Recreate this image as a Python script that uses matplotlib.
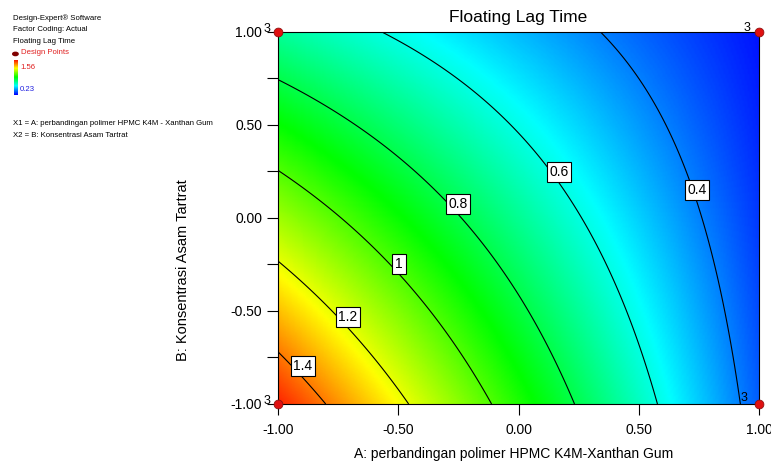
import numpy as np
import matplotlib
matplotlib.use("Agg")
from matplotlib import pyplot as plt
from matplotlib.colors import LinearSegmentedColormap

plt.rcParams["font.family"] = ["Liberation Sans", "DejaVu Sans"]

coef_names = ["b0", "A", "B", "AB"]
coef_values = [0.705, -0.40, -0.23, 0.18]

# design points (corners of the factorial), replicate counts
pt_a = [-1.0, -1.0, 1.0, 1.0]
pt_b = [-1.0, 1.0, -1.0, 1.0]
pt_n = [3, 3, 3, 3]

resp_min = 0.23
resp_max = 1.56
contour_levels = [0.4, 0.6, 0.8, 1.0, 1.2, 1.4]
label_at = [(0.742, 0.151), (0.168, 0.247), (-0.252, 0.075),
            (-0.497, -0.247), (-0.709, -0.532), (-0.896, -0.796)]

xticks = [-1.0, -0.5, 0.0, 0.5, 1.0]
yticks = [-1.0, -0.5, 0.0, 0.5, 1.0]

title = "Floating Lag Time"
xlabel = "A: perbandingan polimer HPMC K4M-Xanthan Gum"
ylabel = "B: Konsentrasi Asam Tartrat"

de_cmap = LinearSegmentedColormap.from_list(
    "de", ["#0000ff", "#00ffff", "#00ff00", "#ffff00", "#ff0000"])


def model(a, b):
    b0, ba, bb, bab = coef_values
    return b0 + ba * a + bb * b + bab * a * b


def plot():
    fig = plt.figure(figsize=(7.71, 4.69), dpi=100)
    ax = fig.add_axes([0.3606, 0.1386, 0.6239, 0.7932])

    g = np.linspace(-1, 1, 300)
    A, B = np.meshgrid(g, g)
    Z = model(A, B)
    ax.pcolormesh(A, B, Z, cmap=de_cmap, vmin=resp_min, vmax=resp_max,
                  shading="gouraud")
    cs = ax.contour(A, B, Z, levels=contour_levels, colors="black",
                    linewidths=0.8)
    labels = ax.clabel(cs, fmt=lambda v: "%g" % v, inline=False,
                       manual=label_at, fontsize=10)
    # put each boxed label where Design-Expert drew it
    for t in labels:
        lv = float(t.get_text())
        i = min(range(len(contour_levels)),
                key=lambda k: abs(contour_levels[k] - lv))
        t.set_position(label_at[i])
        t.set_rotation(0)
        t.set_bbox(dict(facecolor="white", edgecolor="black", pad=2.0,
                        linewidth=0.8))
        t.set_zorder(5)

    ax.scatter(pt_a, pt_b, s=40, c="#e01010", edgecolors="#901010",
               linewidths=0.6, zorder=6, clip_on=False)
    for a, b, n in zip(pt_a, pt_b, pt_n):
        if a < 0:
            off = (-8, 2)
        elif b > 0:
            off = (-9, 3)
        else:
            off = (-11, 4)
        ax.annotate(str(n), (a, b), xytext=off, textcoords="offset points",
                    fontsize=9, ha="center", va="center", zorder=7,
                    annotation_clip=False)

    ax.set_xlim(-1, 1)
    ax.set_ylim(-1, 1)
    ax.set_xticks(xticks)
    ax.set_yticks(yticks)
    ax.set_yticks([-0.75, -0.25, 0.25, 0.75], minor=True)
    ax.set_xticklabels(["%.2f" % v for v in xticks], fontsize=10)
    ax.set_yticklabels(["%.2f" % v for v in yticks], fontsize=10)
    ax.tick_params(which="both", direction="out", length=8, width=0.8)
    ax.tick_params(axis="x", pad=6)
    for s in ax.spines.values():
        s.set_linewidth(0.8)

    ax.set_title(title, fontsize=12.5, pad=7)
    ax.set_xlabel(xlabel, fontsize=10)
    ax.xaxis.set_label_coords(0.49, -0.115)
    fig.text(0.238, 0.425, ylabel, rotation=90, fontsize=10.5,
             ha="center", va="center")

    # left side information panel
    fs = 5.6
    fig.text(0.017, 0.962, "Design-Expert\u00ae Software", fontsize=fs,
             va="center")
    fig.text(0.017, 0.937, "Factor Coding: Actual", fontsize=fs, va="center")
    fig.text(0.017, 0.912, title, fontsize=fs, va="center")
    fig.text(0.027, 0.887, "Design Points", fontsize=fs, va="center",
             color="#e02020")
    fig.patches.append(plt.Circle((0.020, 0.885), 0.0035,
                                  transform=fig.transFigure,
                                  color="#800000"))
    cax = fig.add_axes([0.018, 0.797, 0.005, 0.076])
    cax.imshow(np.linspace(1, 0, 50)[:, None], aspect="auto", cmap=de_cmap)
    cax.set_xticks([])
    cax.set_yticks([])
    for s in cax.spines.values():
        s.set_visible(False)
    fig.text(0.026, 0.857, "%.2f" % resp_max, fontsize=fs, va="center",
             color="#e02020")
    fig.text(0.026, 0.810, "%.2f" % resp_min, fontsize=fs, va="center",
             color="#2020e0")
    fig.text(0.017, 0.736,
             "X1 = A: perbandingan polimer HPMC K4M - Xanthan Gum",
             fontsize=fs, va="center")
    fig.text(0.017, 0.711, "X2 = B: Konsentrasi Asam Tartrat",
             fontsize=fs, va="center")

    fig.savefig("out.png", dpi=100)


def main():
    plot()


if __name__ == "__main__":
    main()
